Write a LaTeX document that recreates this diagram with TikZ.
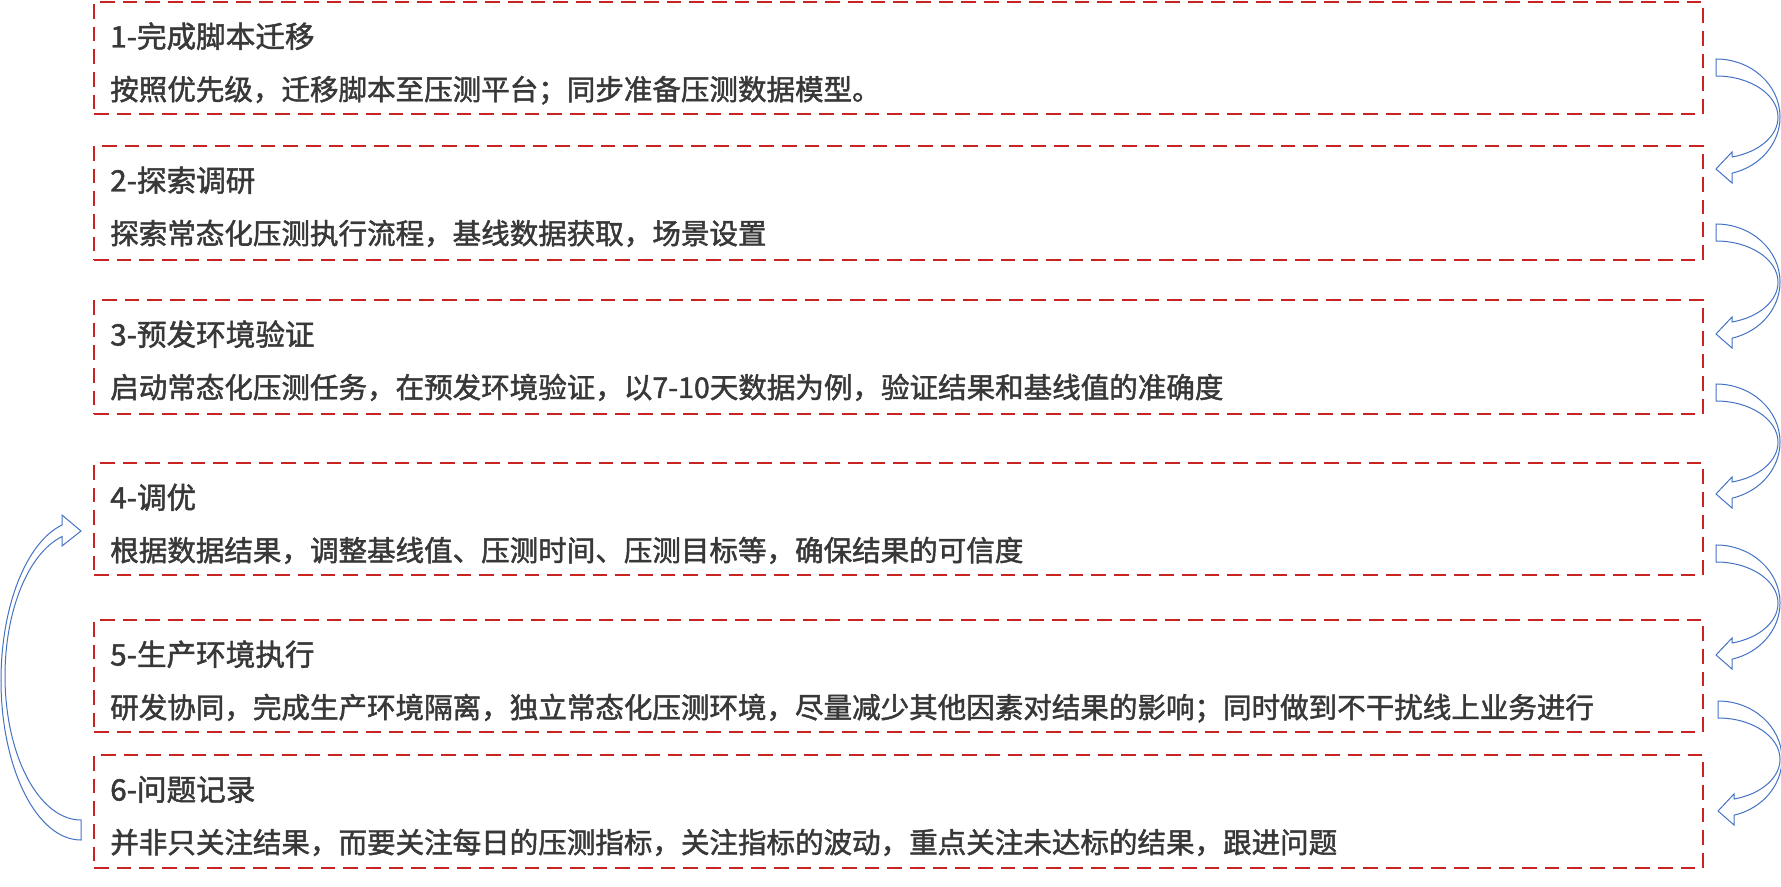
\documentclass[tikz,border=0pt]{standalone}
\usepackage{fontspec}
\setmainfont{Noto Sans CJK SC}
\newfontfamily\stepfont{Noto Sans CJK SC}[FakeBold=1.6]
\usetikzlibrary{calc}
\definecolor{boxred}{RGB}{200,36,36}
\definecolor{txtgray}{RGB}{56,56,56}
\definecolor{arrowblue}{RGB}{68,114,196}
\tikzset{
  stepbox/.style={draw=boxred, line width=1.5pt, dash pattern=on 11pt off 6pt,
    inner sep=0pt, anchor=north west, minimum width=1206.75pt},
  steptext/.style={anchor=base west, inner sep=0pt, text=txtgray,
    font=\stepfont\fontsize{21.4pt}{25pt}\selectfont},
  steptitle/.style={steptext, font=\stepfont\fontsize{22.2pt}{26pt}\selectfont},
  blockarrow/.style={draw=arrowblue, line width=0.75pt, fill=white, line join=miter},
  rightturn/.pic={
    \draw[blockarrow] (0,0) .. controls (35.3,0) and (64,26) .. (64,58)
      .. controls (64,84.4) and (44.3,107.6) .. (16,114.2)
      -- (16,124) -- (0,110) -- (16,93) -- (16,98)
      .. controls (43.1,93.2) and (62,76.9) .. (62,58.2)
      .. controls (62,35.5) and (34.2,17) .. (0,17) -- cycle;
  },
  leftloop/.pic={
    \draw[blockarrow] (0,0) -- (0,20) .. controls (-44.2,20) and (-80,-51.6) .. (-80,-139.8)
      .. controls (-80,-213.5) and (-54.8,-277.6) .. (-19,-295)
      -- (-19,-305) -- (0,-289) -- (-19,-274) -- (-19,-283.4)
      .. controls (-52.6,-266.9) and (-76,-209.7) .. (-76,-144)
      .. controls (-76,-64.5) and (-42,0) .. (0,0) -- cycle;
  },
}
\begin{document}
\begin{tikzpicture}[x=0.75pt,y=-0.75pt]
\useasboundingbox (0,0) rectangle (1781,887);
\fill[white] (0,0) rectangle (1781,887);

\node[stepbox, minimum height=84pt]   (b1) at (93,1)   {};
\node[stepbox, minimum height=85.5pt] (b2) at (93,145) {};
\node[stepbox, minimum height=85.5pt] (b3) at (93,299) {};
\node[stepbox, minimum height=84pt]   (b4) at (93,462) {};
\node[stepbox, minimum height=84pt]   (b5) at (93,619) {};
\node[stepbox, minimum height=84.75pt](b6) at (93,754) {};

\node[steptitle] (t1) at ($(b1.north west)+(17,46.5)$) {1-完成脚本迁移};
\node[steptext]  (d1) at ($(b1.north west)+(17,99)$) {按照优先级，迁移脚本至压测平台；同步准备压测数据模型。};
\node[steptitle] (t2) at ($(b2.north west)+(17,46.5)$) {2-探索调研};
\node[steptext]  (d2) at ($(b2.north west)+(17,99)$) {探索常态化压测执行流程，基线数据获取，场景设置};
\node[steptitle] (t3) at ($(b3.north west)+(17,46.5)$) {3-预发环境验证};
\node[steptext]  (d3) at ($(b3.north west)+(17,99)$) {启动常态化压测任务，在预发环境验证，以7-10天数据为例，验证结果和基线值的准确度};
\node[steptitle] (t4) at ($(b4.north west)+(17,46.5)$) {4-调优};
\node[steptext]  (d4) at ($(b4.north west)+(17,99)$) {根据数据结果，调整基线值、压测时间、压测目标等，确保结果的可信度};
\node[steptitle] (t5) at ($(b5.north west)+(17,46.5)$) {5-生产环境执行};
\node[steptext]  (d5) at ($(b5.north west)+(17,99)$) {研发协同，完成生产环境隔离，独立常态化压测环境，尽量减少其他因素对结果的影响；同时做到不干扰线上业务进行};
\node[steptitle] (t6) at ($(b6.north west)+(17,46.5)$) {6-问题记录};
\node[steptext]  (d6) at ($(b6.north west)+(17,99)$) {并非只关注结果，而要关注每日的压测指标，关注指标的波动，重点关注未达标的结果，跟进问题};

\pic at ($(b1.east)+(12,1)$)  {rightturn};
\pic at ($(b2.east)+(12,21)$) {rightturn};
\pic at ($(b3.east)+(12,27)$) {rightturn};
\pic at ($(b4.east)+(12,26)$) {rightturn};
\pic at ($(b5.east)+(14,25)$) {rightturn};
\pic at ($(b6.west)+(-12,8.5)$) {leftloop};
\end{tikzpicture}
\end{document}
